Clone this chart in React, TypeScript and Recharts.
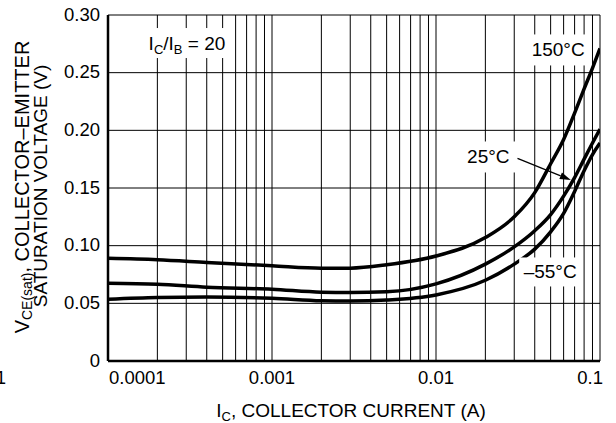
import React from 'react';
import { LineChart, Line, XAxis, YAxis, CartesianGrid, ReferenceDot, ReferenceLine } from 'recharts';

// collector current (A)
const current = [0.0001, 0.0002, 0.0004, 0.001, 0.002, 0.003, 0.005, 0.01, 0.02, 0.03, 0.04, 0.05, 0.06, 0.07, 0.08, 0.09, 0.1];
// VCE(sat) in volts
const vHot = [0.089, 0.0878, 0.0855, 0.0826, 0.0805, 0.0805, 0.0834, 0.091, 0.107, 0.125, 0.146, 0.171, 0.192, 0.215, 0.236, 0.254, 0.271];
const vRoom = [0.0674, 0.0666, 0.064, 0.0622, 0.0596, 0.0593, 0.06, 0.0669, 0.084, 0.099, 0.113, 0.127, 0.143, 0.159, 0.175, 0.189, 0.201];
const vCold = [0.0535, 0.055, 0.0555, 0.0544, 0.0523, 0.052, 0.0529, 0.0573, 0.07, 0.084, 0.097, 0.112, 0.128, 0.147, 0.165, 0.179, 0.189];

const gridTicks = [
  0.0001, 0.0002, 0.0003, 0.0004, 0.0005, 0.0006, 0.0007, 0.0008, 0.0009,
  0.001, 0.002, 0.003, 0.004, 0.005, 0.006, 0.007, 0.008, 0.009,
  0.01, 0.02, 0.03, 0.04, 0.05, 0.06, 0.07, 0.08, 0.09, 0.1,
];
const decadeTicks = [0.0001, 0.001, 0.01, 0.1];
const decadeLabels = ['0.0001', '0.001', '0.01', '0.1'];
const yTicks = [0, 0.05, 0.1, 0.15, 0.2, 0.25, 0.3];
const yLabels = ['0', '0.05', '0.10', '0.15', '0.20', '0.25', '0.30'];

const data = current.map((ic, i) => ({ ic, hot: vHot[i], room: vRoom[i], cold: vCold[i] }));

const FONT = '"Liberation Sans", Arial, Helvetica, sans-serif';

const XTick = (props: any) => {
  const { x, y, payload } = props;
  const idx = decadeTicks.indexOf(payload.value);
  if (idx < 0) return <g />;
  const last = idx === decadeTicks.length - 1;
  const anchor = idx === 0 ? 'start' : last ? 'end' : 'middle';
  const dx = idx === 0 ? 1 : last ? 3 : 0;
  return (
    <g>
      {idx === 0 && (
        <text x={x - 102} y={y + 15} textAnchor="end" fontSize={18.5} fontFamily={FONT} fill="#000">0.00001</text>
      )}
      <text x={x + dx} y={y + 15} textAnchor={anchor} fontSize={18.5} fontFamily={FONT} fill="#000">
        {decadeLabels[idx]}
      </text>
    </g>
  );
};

const YTick = (props: any) => {
  const { x, y, payload } = props;
  const idx = yTicks.indexOf(payload.value);
  return (
    <text x={x} y={y + 5.5} textAnchor="end" fontSize={18.5} fontFamily={FONT} fill="#000">
      {idx >= 0 ? yLabels[idx] : ''}
    </text>
  );
};

const YTitle = (props: any) => {
  const { viewBox } = props;
  const cy = viewBox.y + viewBox.height / 2;
  const x1 = viewBox.x + 29;
  const x2 = viewBox.x + 47;
  return (
    <g fontFamily={FONT} fill="#000">
      <text x={x1} y={cy - 1} fontSize={20} textAnchor="middle" transform={`rotate(-90, ${x1}, ${cy - 1})`}>
        V<tspan fontSize={14} dy={3}>CE(sat)</tspan>
        <tspan dy={-3}>, COLLECTOR–EMITTER</tspan>
      </text>
      <text x={x2} y={cy - 2} fontSize={19} textAnchor="middle" transform={`rotate(-90, ${x2}, ${cy - 2})`}>
        SATURATION VOLTAGE (V)
      </text>
    </g>
  );
};

const XTitle = (props: any) => {
  const { viewBox } = props;
  const cx = viewBox.x + viewBox.width / 2 - 3;
  return (
    <text x={cx} y={viewBox.y + 56} textAnchor="middle" fontFamily={FONT} fontSize={19} fill="#000">
      I<tspan fontSize={13} dy={4}>C</tspan>
      <tspan dy={-4}>, COLLECTOR CURRENT (A)</tspan>
    </text>
  );
};

const boxLabel = (w: number, h: number, content: React.ReactNode) => (p: any) => {
  const { cx, cy } = p;
  return (
    <g>
      <rect x={cx - w / 2} y={cy - h / 2} width={w} height={h} fill="#fff" />
      <text x={cx} y={cy + 6.5} textAnchor="middle" fontFamily={FONT} fontSize={19} fill="#000">
        {content}
      </text>
    </g>
  );
};

const Arrow = (p: any) => {
  const { x1, y1, x2, y2 } = p;
  const ang = Math.atan2(y2 - y1, x2 - x1);
  const len = 11;
  const half = 3.5;
  const bx = x2 - len * Math.cos(ang);
  const by = y2 - len * Math.sin(ang);
  const px = -Math.sin(ang) * half;
  const py = Math.cos(ang) * half;
  return (
    <g>
      <line x1={x1} y1={y1} x2={bx} y2={by} stroke="#000" strokeWidth={1.3} />
      <polygon points={`${x2},${y2} ${bx + px},${by + py} ${bx - px},${by - py}`} fill="#000" />
    </g>
  );
};

export default function App() {
  return (
    <div style={{ position: 'absolute', left: 0, top: 0, width: 616, height: 423, background: '#fff' }}>
      <LineChart width={616} height={423} data={data} margin={{ top: 15, right: 16, bottom: 0, left: 0 }}>
        <CartesianGrid stroke="#000" strokeWidth={1} horizontal vertical />
        <XAxis
          dataKey="ic"
          type="number"
          scale="log"
          domain={[0.0001, 0.1]}
          allowDataOverflow
          ticks={gridTicks}
          interval={0}
          tick={<XTick />}
          tickLine={false}
          axisLine={{ stroke: '#000', strokeWidth: 2.5 }}
          height={62}
          label={<XTitle />}
        />
        <YAxis
          type="number"
          domain={[0, 0.3]}
          ticks={yTicks}
          interval={0}
          tick={<YTick />}
          tickLine={false}
          axisLine={{ stroke: '#000', strokeWidth: 2.5 }}
          width={108}
          label={<YTitle />}
        />
        <ReferenceDot
          x={0.000303}
          y={0.2757}
          r={1}
          ifOverflow="visible"
          shape={boxLabel(88, 30, (
            <>
              I<tspan fontSize={13} dy={4}>C</tspan>
              <tspan dy={-4}>/I</tspan>
              <tspan fontSize={13} dy={4}>B</tspan>
              <tspan dy={-4}> = 20</tspan>
            </>
          ))}
        />
        <ReferenceDot x={0.0556} y={0.2697} r={1} ifOverflow="visible" shape={boxLabel(66, 31, '150°C')} />
        <ReferenceDot x={0.02085} y={0.1769} r={1} ifOverflow="visible" shape={boxLabel(54, 31, '25°C')} />
        <ReferenceDot x={0.0497} y={0.0772} r={1} ifOverflow="visible" shape={boxLabel(62, 29, '–55°C')} />
        <Line type="monotone" dataKey="hot" stroke="#000" strokeWidth={3.5} dot={false} isAnimationActive={false} />
        <Line type="monotone" dataKey="room" stroke="#000" strokeWidth={3.5} dot={false} isAnimationActive={false} />
        <Line type="monotone" dataKey="cold" stroke="#000" strokeWidth={3.5} dot={false} isAnimationActive={false} />
        <ReferenceLine
          segment={[{ x: 0.0314, y: 0.1757 }, { x: 0.0664, y: 0.157 }]}
          ifOverflow="visible"
          shape={<Arrow />}
        />
      </LineChart>
    </div>
  );
}
